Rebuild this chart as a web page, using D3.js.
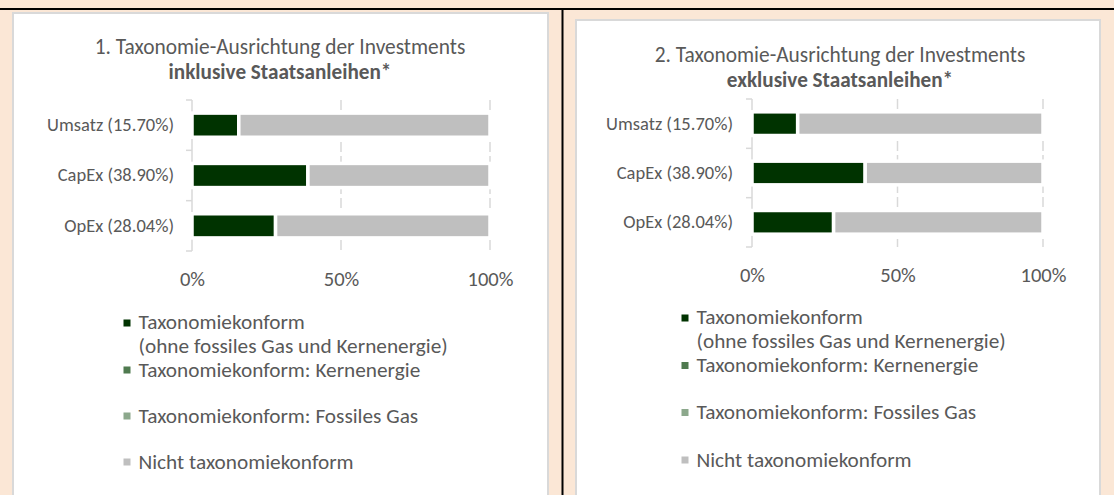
<!DOCTYPE html>
<html>
<head>
<meta charset="utf-8">
<script src="https://cdn.jsdelivr.net/npm/d3@7"></script>
<style>
  html, body { margin: 0; padding: 0; background: #FBE7D6; }
  svg { display: block; }
  text { font-family: Carlito, Calibri, Lato, "Open Sans", sans-serif; fill: #595959; }
</style>
</head>
<body>
<svg id="chart" width="1114" height="495"></svg>
<script>
// ---------- DATA ----------
const categories = ["Umsatz (15.70%)", "CapEx (38.90%)", "OpEx (28.04%)"];
// Chart 1: inklusive Staatsanleihen
const alignedIncl = [15.70, 38.90, 28.04];
const nuclearIncl = [0, 0, 0];
const gasIncl = [0, 0, 0];
const notAlignedIncl = [84.30, 61.10, 71.96];
// Chart 2: exklusive Staatsanleihen
const alignedExcl = [15.70, 38.90, 28.04];
const nuclearExcl = [0, 0, 0];
const gasExcl = [0, 0, 0];
const notAlignedExcl = [84.30, 61.10, 71.96];

const seriesKeys = ["aligned", "nuclear", "gas", "notAligned"];
const seriesLabels = [
  ["Taxonomiekonform", "(ohne fossiles Gas und Kernenergie)"],
  ["Taxonomiekonform: Kernenergie"],
  ["Taxonomiekonform: Fossiles Gas"],
  ["Nicht taxonomiekonform"]
];
const seriesColors = ["#003300", "#4F7A4F", "#8CA88C", "#BFBFBF"];
const xTicks = [0, 50, 100];
const titles1 = ["1. Taxonomie-Ausrichtung der Investments", "inklusive Staatsanleihen*"];
const titles2 = ["2. Taxonomie-Ausrichtung der Investments", "exklusive Staatsanleihen*"];

// ---------- SETUP ----------
const svg = d3.select("#chart");
const W = 1114, H = 495;

// font fitting helper (measure at 100px, scale to target width)
function fitSize(str, weight, target) {
  const t = svg.append("text").attr("font-size", 100).attr("font-weight", weight).text(str);
  const w = t.node().getComputedTextLength();
  t.remove();
  return 100 * target / w;
}
const fsTitle = fitSize(titles1[0], 400, 371);
const fsTitleB = fitSize(titles1[1], 700, 223);
const fsCat = fitSize(categories[0], 400, 127);
const fsTick = fitSize("100%", 400, 46);
const fsLegend = fitSize(seriesLabels[0][1], 400, 309.5);

// separators
svg.append("rect").attr("x", 0).attr("y", 8).attr("width", W).attr("height", 2).attr("fill", "#000");
svg.append("rect").attr("x", 561.5).attr("y", 8).attr("width", 2).attr("height", H - 8).attr("fill", "#000");

function drawPanel(cfg) {
  const g = svg.append("g");
  // white box
  g.append("rect")
    .attr("x", cfg.box[0]).attr("y", cfg.box[1])
    .attr("width", cfg.box[2]).attr("height", H + 20 - cfg.box[1])
    .attr("fill", "#fff").attr("stroke", "#D9D9D9").attr("stroke-width", 2);

  // title
  g.append("text").attr("x", cfg.titleX).attr("y", cfg.titleY[0]).attr("dy", "0.35em")
    .attr("text-anchor", "middle").attr("font-size", fsTitle).text(cfg.titles[0]);
  g.append("text").attr("x", cfg.titleX).attr("y", cfg.titleY[1]).attr("dy", "0.35em")
    .attr("text-anchor", "middle").attr("font-size", fsTitleB).attr("font-weight", 700).text(cfg.titles[1]);

  const x = d3.scaleLinear().domain([0, 100]).range(cfg.xRange);
  const y = d3.scaleBand().domain(categories).range(cfg.yRange).paddingInner(0.52).paddingOuter(0.26);

  // gridlines
  g.append("g").selectAll("line").data(xTicks.filter(t => t > 0)).join("line")
    .attr("x1", d => x(d)).attr("x2", d => x(d))
    .attr("y1", cfg.yRange[0]).attr("y2", cfg.yRange[1])
    .attr("stroke", "#D9D9D9").attr("stroke-width", 1.5).attr("stroke-dasharray", "10,4");

  // y axis line and boundary ticks
  const bounds = categories.map(c => y(c) - y.step() * y.paddingInner() / 2)
    .concat([cfg.yRange[1]]);
  g.append("line").attr("x1", x(0)).attr("x2", x(0))
    .attr("y1", cfg.yRange[0]).attr("y2", cfg.yRange[1])
    .attr("stroke", "#D9D9D9").attr("stroke-width", 1.5);
  g.append("g").selectAll("line").data(bounds).join("line")
    .attr("x1", x(0) - 6).attr("x2", x(0))
    .attr("y1", d => d).attr("y2", d => d)
    .attr("stroke", "#D9D9D9").attr("stroke-width", 1.5);

  // stacked bars
  const rows = categories.map((c, i) => ({
    cat: c, aligned: cfg.data[0][i], nuclear: cfg.data[1][i], gas: cfg.data[2][i], notAligned: cfg.data[3][i]
  }));
  const stacked = d3.stack().keys(seriesKeys)(rows);
  g.append("g").selectAll("g").data(stacked).join("g")
    .attr("fill", (d, i) => seriesColors[i])
    .selectAll("rect").data(d => d).join("rect")
    .attr("x", d => x(d[0])).attr("width", d => x(d[1]) - x(d[0]))
    .attr("y", d => y(d.data.cat)).attr("height", y.bandwidth())
    .attr("stroke", "#fff").attr("stroke-width", 3.5);

  // category labels
  const ya = g.append("g").attr("transform", `translate(${x(0)},0)`)
    .call(d3.axisLeft(y).tickSize(0).tickPadding(cfg.catPad));
  ya.select(".domain").remove();
  ya.selectAll("text").attr("font-size", fsCat).attr("font-family", null).attr("fill", "#595959");

  // x tick labels
  const xa = g.append("g").attr("transform", `translate(0,${cfg.tickY})`)
    .call(d3.axisBottom(x).tickValues(xTicks).tickFormat(d => d + "%").tickSize(0).tickPadding(0));
  xa.select(".domain").remove();
  xa.selectAll("text").attr("dy", "0.35em").attr("y", 0).attr("font-size", fsTick)
    .attr("font-family", null).attr("fill", "#595959");

  // legend
  const lg = g.append("g");
  seriesLabels.forEach((lines, i) => {
    lg.append("rect").attr("x", cfg.legend.markerX).attr("y", cfg.legend.markerY[i] - 3.5)
      .attr("width", 7).attr("height", 7).attr("fill", seriesColors[i]);
    lines.forEach((ln, j) => {
      lg.append("text").attr("x", cfg.legend.textX).attr("y", cfg.legend.textY[i][j])
        .attr("dy", "0.35em").attr("font-size", fsLegend).text(ln);
    });
  });
}

drawPanel({
  box: [13, 13, 535],
  titles: titles1, titleX: 280, titleY: [47, 72],
  xRange: [192, 490], yRange: [100, 251], catPad: 18, tickY: 279,
  data: [alignedIncl, nuclearIncl, gasIncl, notAlignedIncl],
  legend: { markerX: 123.5, textX: 138.5,
    markerY: [323, 370, 416, 462],
    textY: [[322, 345.5], [369.5], [416], [462]] }
});

drawPanel({
  box: [576, 20, 524],
  titles: titles2, titleX: 840, titleY: [55, 80],
  xRange: [752, 1043], yRange: [99, 247], catPad: 19, tickY: 275,
  data: [alignedExcl, nuclearExcl, gasExcl, notAlignedExcl],
  legend: { markerX: 681.5, textX: 696.5,
    markerY: [318, 365.5, 412.5, 460],
    textY: [[317, 340.5], [364.5], [411.5], [459.5]] }
});
</script>
</body>
</html>
